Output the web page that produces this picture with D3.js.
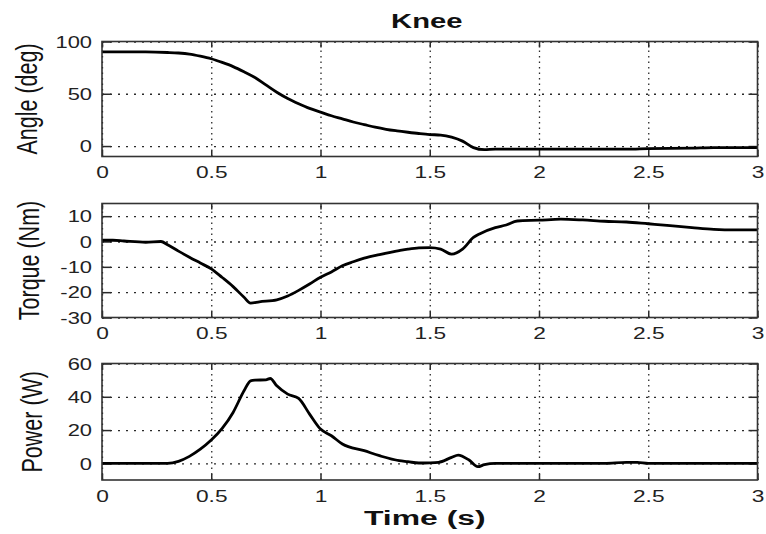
<!DOCTYPE html>
<html>
<head>
<meta charset="utf-8">
<script src="https://cdn.jsdelivr.net/npm/d3@7"></script>
<style>
  body { margin: 0; background: #fff; }
  svg { display: block; font-family: "Liberation Sans", Arial, sans-serif; }
</style>
</head>
<body>
<script>
// values
const angleTime = [0, 0.1, 0.2, 0.3, 0.35, 0.4, 0.45, 0.5, 0.55, 0.6, 0.65, 0.7, 0.75, 0.8, 0.85, 0.9, 0.95, 1.0,
  1.05, 1.1, 1.15, 1.2, 1.25, 1.3, 1.35, 1.4, 1.45, 1.5, 1.55, 1.6, 1.65, 1.7, 1.75, 1.8, 1.9, 2.0, 2.2, 2.4, 2.5, 2.7, 2.8, 3.0];
const angleDeg = [90, 90, 90, 89.5, 89, 88, 86, 83.5, 80, 76, 71, 65.5, 58.5, 51.5, 45.5, 40.5, 36, 32.5,
  29, 26, 23, 20.5, 18, 16, 14.5, 13.2, 12, 11, 10.5, 8.5, 4.7, -1.5, -3.5, -3, -3, -3, -3, -3, -2.5, -2, -1.5, -1.5];

const torqueTime = [0, 0.05, 0.1, 0.2, 0.27, 0.3, 0.35, 0.4, 0.45, 0.5, 0.55, 0.6, 0.65, 0.68, 0.72, 0.8, 0.85, 0.9, 0.95, 1.0,
  1.05, 1.1, 1.15, 1.2, 1.27, 1.36, 1.4, 1.45, 1.5, 1.55, 1.6, 1.65, 1.7, 1.73, 1.8, 1.85, 1.9, 2.0, 2.1, 2.2, 2.3, 2.4, 2.5, 2.6, 2.7, 2.8, 2.9, 3.0];
const torqueNm = [0.5, 0.5, 0.2, -0.3, 0, -1.3, -3.8, -6.2, -8.5, -10.8, -14.2, -17.8, -22, -24.3, -23.8, -23, -21.5, -19.3, -16.8, -14.1,
  -12, -9.6, -8, -6.6, -5.2, -3.6, -3, -2.5, -2.4, -3, -5, -3, 1.6, 3.1, 5.5, 6.5, 8.1, 8.4, 8.8, 8.5, 8, 7.7, 7, 6.3, 5.5, 4.8, 4.6, 4.6];

const powerTime = [0, 0.1, 0.2, 0.3, 0.35, 0.4, 0.45, 0.5, 0.55, 0.6, 0.65, 0.68, 0.7, 0.75, 0.77, 0.8, 0.85, 0.9, 0.95, 1.0,
  1.05, 1.1, 1.2, 1.27, 1.36, 1.4, 1.45, 1.5, 1.54, 1.6, 1.63, 1.68, 1.72, 1.75, 1.8, 2.0, 2.3, 2.4, 2.45, 2.5, 3.0];
const powerW = [0, 0, 0, 0, 1.2, 4.2, 8.5, 14, 21, 30.6, 43.6, 49.6, 50, 50.2, 51, 46.6, 41.6, 39, 29.6, 20.6,
  16.6, 11.6, 7.6, 4.6, 1.6, 1, 0.2, 0.3, 0.6, 3.6, 5, 2, -2, -0.8, 0, 0, 0, 0.6, 0.6, 0, 0];

const timeTicks = [0, 0.5, 1, 1.5, 2, 2.5, 3];
const angleTicks = [0, 50, 100];
const torqueTicks = [-30, -20, -10, 0, 10];
const powerTicks = [0, 20, 40, 60];

const title = "Knee";
const xLabel = "Time (s)";

const width = 766, height = 534;
const left = 102, right = 757.5;

const panels = [
  { label: "Angle (deg)", t: angleTime, v: angleDeg, ticks: angleTicks, domain: [-10, 100], top: 41.5, bottom: 156.5, labelX: 37 },
  { label: "Torque (Nm)", t: torqueTime, v: torqueNm, ticks: torqueTicks, domain: [-30, 15], top: 203.5, bottom: 317.5, labelX: 38.5 },
  { label: "Power (W)", t: powerTime, v: powerW, ticks: powerTicks, domain: [-10, 60], top: 363.5, bottom: 480, labelX: 42 }
];

const ink = "#2a2a2a";

const svg = d3.select("body").append("svg")
  .attr("width", width)
  .attr("height", height);

const x = d3.scaleLinear().domain([0, 3]).range([left, right]);

panels.forEach(p => {
  const y = d3.scaleLinear().domain(p.domain).range([p.bottom, p.top]);
  const h = p.bottom - p.top;
  const g = svg.append("g");

  // dotted grid
  const gx = g.append("g")
    .attr("transform", `translate(0,${p.bottom})`)
    .call(d3.axisBottom(x).tickValues(timeTicks).tickSize(-h).tickFormat(""));
  gx.select(".domain").remove();
  gx.selectAll("line").attr("stroke", ink).attr("stroke-width", 1.3).attr("stroke-dasharray", "1.5 4");

  const gy = g.append("g")
    .attr("transform", `translate(${left},0)`)
    .call(d3.axisLeft(y).tickValues(p.ticks).tickSize(-(right - left)).tickFormat(""));
  gy.select(".domain").remove();
  gy.selectAll("line").attr("stroke", ink).attr("stroke-width", 1.3).attr("stroke-dasharray", "2 6");

  // inward tick marks on all four sides
  const tickAxes = [
    [d3.axisBottom(x).tickValues(timeTicks).tickSize(-6), `translate(0,${p.bottom})`],
    [d3.axisTop(x).tickValues(timeTicks).tickSize(-6), `translate(0,${p.top})`],
    [d3.axisLeft(y).tickValues(p.ticks).tickSize(-9), `translate(${left},0)`],
    [d3.axisRight(y).tickValues(p.ticks).tickSize(-9), `translate(${right},0)`]
  ];
  tickAxes.forEach(([ax, tr]) => {
    const a = g.append("g").attr("transform", tr).call(ax.tickFormat(""));
    a.select(".domain").remove();
    a.selectAll("line").attr("stroke", ink).attr("stroke-width", 1.5);
  });

  // data line
  const line = d3.line()
    .x((d, i) => x(p.t[i]))
    .y(d => y(d))
    .curve(d3.curveMonotoneX);

  g.append("path")
    .datum(p.v)
    .attr("fill", "none")
    .attr("stroke", "#000")
    .attr("stroke-width", 2.8)
    .attr("stroke-linejoin", "round")
    .attr("d", line);

  // box
  g.append("rect")
    .attr("x", left)
    .attr("y", p.top)
    .attr("width", right - left)
    .attr("height", h)
    .attr("fill", "none")
    .attr("stroke", "#333")
    .attr("stroke-width", 1.6);

  // tick labels
  const lx = g.append("g")
    .attr("transform", `translate(0,${p.bottom})`)
    .call(d3.axisBottom(x).tickValues(timeTicks).tickSize(0).tickFormat(d => String(d)));
  lx.select(".domain").remove();
  lx.selectAll("text")
    .attr("y", 22).attr("dy", 0)
    .attr("transform", "scale(1.42,1)")
    .attr("font-size", 16)
    .attr("font-family", "Liberation Sans, Arial, sans-serif")
    .attr("fill", "#222");

  const ly = g.append("g")
    .attr("transform", `translate(${left},0)`)
    .call(d3.axisLeft(y).tickValues(p.ticks).tickSize(0).tickFormat(d => String(d)));
  ly.select(".domain").remove();
  ly.selectAll("text")
    .attr("x", 0).attr("dy", "0.36em")
    .attr("transform", "translate(-10,0) scale(1.37,1)")
    .attr("font-size", 16)
    .attr("font-family", "Liberation Sans, Arial, sans-serif")
    .attr("fill", "#222");

  // y label
  svg.append("text")
    .attr("transform", `translate(${p.labelX},${(p.top + p.bottom) / 2}) scale(1.38,1) rotate(-90)`)
    .attr("text-anchor", "middle")
    .attr("font-size", 21.5)
    .attr("fill", "#111")
    .text(p.label);
});

svg.append("text")
  .attr("transform", `translate(${(left + right) / 2 - 3},27.7) scale(1.46,1)`)
  .attr("text-anchor", "middle")
  .attr("font-size", 20)
  .attr("font-weight", "bold")
  .attr("fill", "#111")
  .text(title);

svg.append("text")
  .attr("transform", `translate(${(left + right) / 2 - 5},525) scale(1.52,1)`)
  .attr("text-anchor", "middle")
  .attr("font-size", 21)
  .attr("font-weight", "bold")
  .attr("fill", "#111")
  .text(xLabel);
</script>
</body>
</html>
